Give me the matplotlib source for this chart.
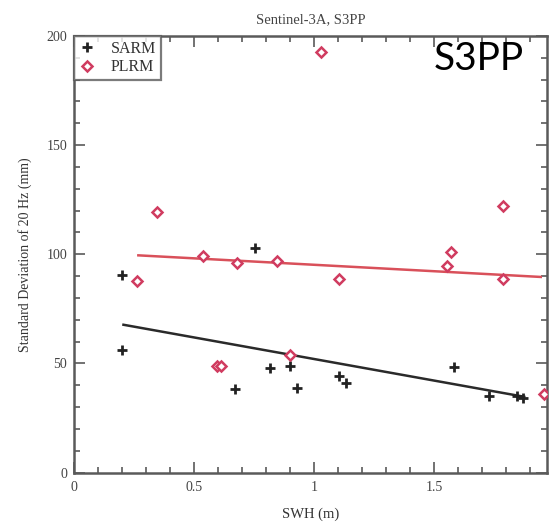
import numpy as np
import matplotlib
matplotlib.use("Agg")
import matplotlib.pyplot as plt
from matplotlib.ticker import MultipleLocator

plt.rcParams['font.family'] = ['Liberation Serif', 'DejaVu Serif']

# SARM points (SWH in m, std dev in mm)
sarm_x = [0.20, 0.20, 0.755, 0.672, 0.818, 0.90, 0.929, 1.103, 1.133, 1.583, 1.729, 1.847, 1.868]
sarm_y = [90.6, 56.1, 102.9, 38.1, 48.0, 48.8, 38.6, 44.2, 41.1, 48.3, 35.0, 35.0, 34.3]

# PLRM points
plrm_x = [1.030, 0.344, 0.264, 0.539, 0.679, 0.846, 1.103, 1.569, 1.553, 1.785, 1.785, 0.595, 0.612, 0.901, 1.956]
plrm_y = [192.8, 119.2, 87.9, 99.0, 96.0, 97.0, 88.8, 101.0, 94.5, 122.0, 88.8, 48.8, 48.8, 53.7, 35.8]

# fitted lines
sarm_fit_x = [0.206, 1.875]
sarm_fit_y = [67.7, 34.7]
plrm_fit_x = [0.268, 1.944]
plrm_fit_y = [99.5, 89.6]

red = '#d03c60'
gray = '#5a5a5a'

fig = plt.figure(figsize=(5.49, 5.27), dpi=100)
ax = fig.add_axes([0.1348, 0.1034, 0.8616, 0.8283])

ax.plot(plrm_fit_x, plrm_fit_y, color='#d9505a', lw=1.8, zorder=2)
ax.plot(sarm_fit_x, sarm_fit_y, color='#2a2a2a', lw=1.8, zorder=2)
ax.plot(sarm_x, sarm_y, ls='none', marker='+', ms=7.5, mew=2.0, color='#222222', label='SARM', zorder=3)
ax.plot(plrm_x, plrm_y, ls='none', marker='D', ms=5.5, mew=1.8, mfc='white', mec=red, label='PLRM', zorder=4)

ax.set_xlim(0, 1.97)
ax.set_ylim(0, 200)
ax.xaxis.set_minor_locator(MultipleLocator(0.1))
ax.yaxis.set_major_locator(MultipleLocator(50))
ax.yaxis.set_minor_locator(MultipleLocator(10))
ax.set_xticks([0, 0.5, 1, 1.5])
ax.set_xticklabels(['0', '0.5', '1', '1.5'])
ax.tick_params(which='both', direction='in', top=True, right=True, colors=gray,
               labelcolor='#444444', labelsize=10, width=1.2)
ax.tick_params(which='major', length=8)
ax.tick_params(which='minor', length=4)
ax.tick_params(axis='x', pad=6)
ax.tick_params(axis='y', pad=5)
for s in ax.spines.values():
    s.set_color(gray)
    s.set_linewidth(1.8)

ax.set_xlabel('SWH (m)', fontsize=10.5, color='#333333', labelpad=10)
ax.set_ylabel('Standard Deviation of 20 Hz (mm)', fontsize=10, color='#333333', labelpad=10)
ax.set_title('Sentinel-3A, S3PP', fontsize=10.5, color='#444444', pad=9)

leg = ax.legend(loc='upper left', borderaxespad=0, fontsize=11.5, frameon=True, fancybox=False,
                handlelength=1.0, handletextpad=1.0, borderpad=0.3, labelspacing=0.15)
leg.get_frame().set_edgecolor(gray)
leg.get_frame().set_linewidth(1.6)
for t in leg.get_texts():
    t.set_color('#333333')

fig.text(0.79, 0.867, 'S3PP', fontsize=28, family=['Lato', 'DejaVu Sans'], color='black')

fig.savefig('out.png', dpi=100)
